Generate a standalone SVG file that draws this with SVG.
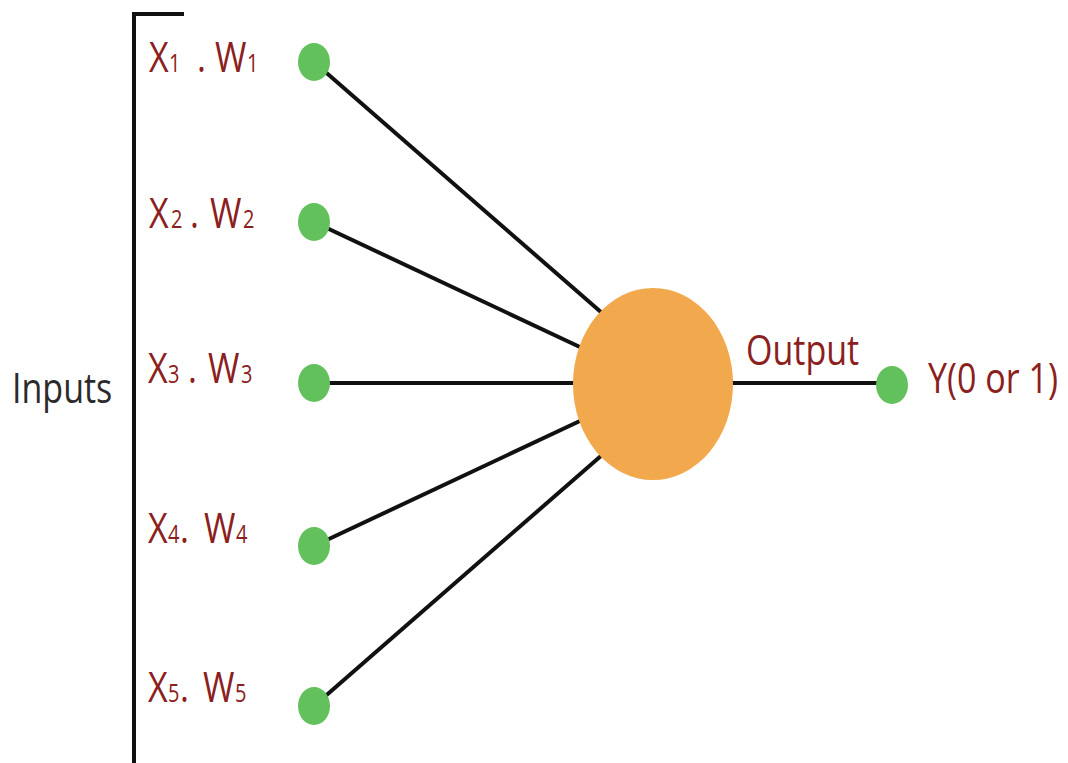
<svg xmlns="http://www.w3.org/2000/svg" width="1068" height="763" viewBox="0 0 1068 763">
<style>
.lbl{font-family:"Open Sans","Liberation Sans",sans-serif;font-size:34px;fill:#8B2020}
.sub{font-size:20px}
.dark{font-family:"Open Sans","Liberation Sans",sans-serif;font-size:34px;fill:#2b2b2b}
.dot{fill:#63C15D}
.edge{stroke:#111;stroke-width:4;fill:none}
</style>
<rect width="1068" height="763" fill="#ffffff"/>
<g id="bracket">
<path d="M184 14 H134 V763" stroke="#111" stroke-width="4" fill="none"/>
<text class="dark" transform="translate(12,403) scale(1,1.25)">Inputs</text>
</g>
<g id="connectors">
<line class="edge" x1="314" y1="62" x2="602" y2="313"/>
<line class="edge" x1="314" y1="222" x2="582" y2="348"/>
<line class="edge" x1="314" y1="383" x2="578" y2="383"/>
<line class="edge" x1="314" y1="546" x2="582" y2="420"/>
<line class="edge" x1="314" y1="706" x2="602" y2="455"/>
<line class="edge" x1="730" y1="383" x2="892" y2="383"/>
</g>
<g id="input1">
<ellipse class="dot" cx="314" cy="62" rx="16" ry="19"/>
<text class="lbl" transform="translate(0,72) scale(1,1.25)"><tspan x="149">X</tspan><tspan class="sub" x="169">1</tspan><tspan x="197">.</tspan><tspan x="215">W</tspan><tspan class="sub" x="247">1</tspan></text>
</g>
<g id="input2">
<ellipse class="dot" cx="314" cy="222" rx="16" ry="19"/>
<text class="lbl" transform="translate(0,228) scale(1,1.25)"><tspan x="149">X</tspan><tspan class="sub" x="171">2</tspan><tspan x="190">.</tspan><tspan x="210">W</tspan><tspan class="sub" x="243">2</tspan></text>
</g>
<g id="input3">
<ellipse class="dot" cx="314" cy="383" rx="16" ry="19"/>
<text class="lbl" transform="translate(0,383) scale(1,1.25)"><tspan x="148">X</tspan><tspan class="sub" x="168">3</tspan><tspan x="188">.</tspan><tspan x="208">W</tspan><tspan class="sub" x="241">3</tspan></text>
</g>
<g id="input4">
<ellipse class="dot" cx="314" cy="546" rx="16" ry="19"/>
<text class="lbl" transform="translate(0,543) scale(1,1.25)"><tspan x="148">X</tspan><tspan class="sub" x="168">4</tspan><tspan x="180">.</tspan><tspan x="204">W</tspan><tspan class="sub" x="236">4</tspan></text>
</g>
<g id="input5">
<ellipse class="dot" cx="314" cy="706" rx="16" ry="19"/>
<text class="lbl" transform="translate(0,702) scale(1,1.25)"><tspan x="148">X</tspan><tspan class="sub" x="168">5</tspan><tspan x="180">.</tspan><tspan x="203">W</tspan><tspan class="sub" x="235">5</tspan></text>
</g>
<g id="neuron">
<ellipse cx="653" cy="384" rx="80" ry="96" fill="#F2A84C"/>
</g>
<g id="output">
<text class="lbl" transform="translate(746,365) scale(1,1.25)">Output</text>
<ellipse class="dot" cx="892" cy="385" rx="16" ry="19"/>
<text class="lbl" transform="translate(928,393) scale(1,1.25)">Y(0 or 1)</text>
</g>
</svg>
